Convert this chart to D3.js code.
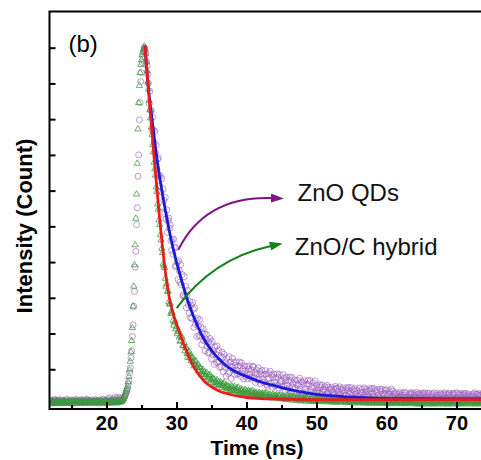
<!DOCTYPE html>
<html>
<head>
<meta charset="utf-8">
<script src="https://cdn.jsdelivr.net/npm/d3@7"></script>
<style>
  body { margin: 0; background: #fff; }
  svg { display: block; }
</style>
</head>
<body>
<div id="chart"></div>
<script>
// decay curves: one channel every 0.1 ns, starting at 12.0 ns
// counts are in thousandths of the peak
var t0 = 12.0, dt = 0.1;

var qdCounts = [
  10,6,14,8,12,5,16,9,7,13,
  8,12,6,15,9,11,5,13,10,7,
  12,7,10,16,6,9,13,8,11,5,
  9,14,7,11,5,12,8,16,10,6,
  13,8,11,6,15,9,7,12,10,14,
  7,11,16,9,6,13,10,8,14,11,
  10,6,12,8,15,7,11,13,9,5,
  14,9,7,12,10,16,8,11,6,13,
  9,13,18,10,7,20,12,8,15,11,
  16,10,21,13,9,18,14,22,11,17,
  13,19,15,12,16,20,24,28,34,40,
  46,58,68,90,104,132,152,192,224,276,
  318,386,430,505,552,640,700,798,846,905,
  930,958,975,990,1000,994,985,962,950,925,
  900,844,878,825,823,770,805,771,734,766,
  706,727,660,688,692,643,613,640,596,634,
  555,604,572,536,581,521,546,483,515,523,
  495,504,460,433,463,422,464,442,388,440,
  390,400,351,404,376,344,393,337,365,305,
  309,359,303,332,272,308,321,280,257,290,
  245,279,242,287,268,217,272,226,238,192,
  243,221,195,239,192,218,169,202,213,180,
  200,152,185,197,164,146,177,147,186,171,
  129,178,140,152,114,162,142,119,165,120,
  154,122,105,136,107,148,134,93,142,105,
  118,81,130,111,88,135,92,120,74,108,
  130,98,119,85,111,121,98,86,109,88,
  120,110,80,118,90,100,73,109,96,80,
  86,107,73,100,110,87,75,98,78,108,
  107,79,90,63,99,86,70,104,73,94,
  60,86,97,74,63,86,65,96,86,57,
  52,88,75,59,94,62,84,50,77,87,
  65,53,77,56,87,77,48,85,58,68,
  66,50,85,53,75,41,68,78,56,44,
  68,48,78,69,39,77,50,60,34,70,
  48,59,32,69,56,40,75,44,65,32,
  64,31,58,68,46,35,58,38,69,59,
  30,68,41,51,25,62,48,33,68,36,
  56,41,33,49,35,57,51,30,56,37,
  43,25,51,42,31,55,34,49,26,45,
  24,43,50,35,27,44,30,52,46,26,
  47,38,27,51,30,45,22,41,48,33,
  24,41,27,49,43,23,49,30,38,20,
  49,28,43,20,39,46,31,23,40,26,
  21,47,28,36,18,44,35,24,48,27,
  37,44,29,21,38,24,46,40,20,46,
  33,22,46,25,40,17,36,43,28,20,
  22,44,38,18,44,25,33,15,41,32,
  43,24,32,14,40,31,20,44,23,38,
  22,32,17,29,34,24,19,30,21,35,
  23,28,16,33,27,20,36,22,32,17,
  23,18,29,20,34,30,17,34,22,27,
  32,26,19,35,21,31,16,28,33,23,
  29,20,34,30,17,34,22,27,15,32,
  16,33,21,26,14,31,25,18,34,20,
  15,27,32,22,17,28,19,33,29,16,
  14,31,25,18,34,20,30,15,27,32,
  32,22,17,28,19,33,29,16,33,21,
  18,34,20,30,15,27,32,22,17,28,
  33,29,16,33,21,26,14,31,25,18,
  21,26,14,31,25,18,34,20,30,15,
  30,15,27,32,22,17,28,19,33,29,
  24
];

var hybridCounts = [
  8,5,11,7,9,4,10,6,12,8,
  6,9,5,11,7,10,8,4,9,12,
  7,5,10,8,6,11,9,5,8,10,
  6,12,7,9,5,10,8,11,6,9,
  10,7,5,9,12,6,8,10,7,5,
  9,11,6,8,10,5,12,7,9,6,
  8,10,5,11,7,9,6,12,8,10,
  5,9,11,7,10,6,8,12,5,9,
  11,7,9,6,10,8,12,5,9,7,
  10,6,8,12,9,5,11,8,10,7,
  9,12,10,14,17,22,27,33,38,44,
  52,64,80,98,122,148,180,216,276,332,
  392,448,522,590,676,772,846,894,930,952,
  966,980,987,996,1004,997,984,960,936,904,
  884,852,826,803,778,757,728,708,679,660,
  643,610,597,562,548,518,505,476,462,438,
  426,395,390,384,354,332,339,317,319,288,
  282,284,256,262,257,237,223,231,234,213,
  219,199,205,209,190,178,193,180,190,166,
  166,174,151,161,160,144,133,144,150,132,
  139,124,130,134,119,109,123,113,122,104,
  105,112,95,104,105,92,85,94,99,86,
  92,80,85,91,78,72,84,76,84,69,
  70,77,63,72,72,62,56,65,70,58,
  65,55,60,65,55,49,60,54,62,49,
  50,56,45,52,53,45,40,48,53,43,
  50,40,46,51,41,36,47,41,49,37,
  38,45,33,41,42,34,29,38,43,33,
  39,31,36,40,32,28,38,33,39,30,
  31,36,27,33,34,28,24,30,35,28,
  32,25,30,33,26,22,32,27,33,24,
  26,30,21,28,29,22,19,25,30,22,
  27,20,25,28,21,17,27,23,28,19,
  21,26,17,23,24,18,15,21,26,18,
  23,16,21,25,17,13,23,19,25,16,
  17,22,13,20,21,15,11,17,22,15,
  20,13,18,22,14,10,20,16,22,13,
  15,20,10,17,18,12,9,15,20,13,
  18,11,16,20,13,9,19,15,21,12,
  17,10,15,18,12,8,17,14,19,11,
  12,17,8,15,16,10,7,13,18,11,
  16,9,14,17,11,7,16,13,18,10,
  11,16,7,14,15,9,6,12,17,10,
  14,7,12,16,9,5,15,11,16,8,
  10,15,6,13,14,8,5,11,16,9,
  13,6,11,15,8,4,14,10,15,7,
  9,14,5,12,13,7,4,10,15,8,
  13,6,11,15,8,4,14,10,15,7,
  8,13,4,11,12,6,3,9,14,7,
  12,5,10,14,7,3,13,9,14,6,
  8,13,4,11,12,6,3,9,14,7,
  12,5,10,14,7,3,13,9,14,6,
  7,12,3,10,11,5,2,8,13,6,
  11,4,9,13,6,2,12,8,13,5,
  7,12,3,10,11,5,2,8,13,6,
  11,4,9,13,6,2,12,8,13,5,
  7,12,3,10,11,5,2,8,13,6,
  11,4,9,13,6,2,12,8,13,5,
  7,12,3,10,11,5,2,8,13,6,
  11,4,9,13,6,2,12,8,13,5,
  7,12,3,10,11,5,2,8,13,6,
  11,4,9,13,6,2,12,8,13,5,
  8
];

// fitted decays
var fitTimes  = [25.5,26,26.5,27,27.5,28,28.5,29,29.5,30,30.5,31,31.5,32,32.5,33,33.5,34,35,36,37,38,39,40,42,44,46,48,50,52,54,56,58,60,65,70,74];
var qdFit     = [1006,885,800,720,650,590,535,485,440,400,365,330,298,270,245,222,200,182,153,130,112,98,88,80,65,54,44,36,30,26,23,21,19,18,17.5,17,17];
var hybridFit = [1006,880,762,648,540,442,360,298,258,227,199,172,147,125,106,90,77,66,51,40,33,28,24,21,18,17,16,15.5,15,15,15,15,15,15,15,15,15];

var xTicks = [20,30,40,50,60,70];
var xMinorTicks = [15,25,35,45,55,65,75];
var yTicks = [100,200,300,400,500,600,700,800,900,1000];

var labels = ['ZnO QDs', 'ZnO/C hybrid'];

var W = 481, H = 460;
var font = '"Liberation Sans", Arial, Helvetica, sans-serif';

var svg = d3.select('#chart').append('svg')
    .attr('width', W)
    .attr('height', H);

var x = d3.scaleLinear().domain([11.86, 73.5]).range([49.5, 481]);
var y = d3.scaleLinear().domain([-11.2, 1101.3]).range([409, 11.5]);

var toPoints = function (arr) {
    return arr.map(function (v, i) { return {t: +(t0 + i * dt).toFixed(1), v: v}; });
};
var qdData = toPoints(qdCounts);
var hybridData = toPoints(hybridCounts);

svg.append('defs').append('clipPath').attr('id', 'clip')
    .append('rect')
    .attr('x', x.range()[0]).attr('y', y.range()[1])
    .attr('width', x.range()[1] - x.range()[0] + 5)
    .attr('height', y.range()[0] - y.range()[1]);

var plot = svg.append('g').attr('clip-path', 'url(#clip)');

// ZnO QDs points
plot.append('g').selectAll('circle')
    .data(qdData)
    .enter().append('circle')
    .attr('cx', function (d) { return x(d.t); })
    .attr('cy', function (d) { return y(d.v); })
    .attr('r', 3)
    .style('fill', 'none')
    .style('stroke', '#a066c0')
    .style('stroke-width', 0.9)
    .style('opacity', 0.75);

// ZnO/C hybrid points
var tri = d3.symbol().type(d3.symbolTriangle).size(17);
plot.append('g').selectAll('path')
    .data(hybridData)
    .enter().append('path')
    .attr('d', tri)
    .attr('transform', function (d) { return 'translate(' + x(d.t) + ',' + y(d.v) + ')'; })
    .style('fill', 'none')
    .style('stroke', '#3c983c')
    .style('stroke-width', 0.9)
    .style('opacity', 0.85);

var line = d3.line()
    .x(function (d) { return x(d[0]); })
    .y(function (d) { return y(d[1]); })
    .curve(d3.curveMonotoneX);

plot.append('path')
    .attr('d', line(d3.zip(fitTimes, qdFit)))
    .style('fill', 'none')
    .style('stroke', '#1a1ad8')
    .style('stroke-width', 2.8);

plot.append('path')
    .attr('d', line(d3.zip(fitTimes, hybridFit)))
    .style('fill', 'none')
    .style('stroke', '#ec1c1c')
    .style('stroke-width', 2.8);

// axes
var xAxis = svg.append('g')
    .attr('transform', 'translate(0,' + y.range()[0] + ')')
    .call(d3.axisBottom(x).tickValues(xTicks).tickSize(-7).tickPadding(7))
    .call(function (g) { g.select('.domain').remove(); });
xAxis.selectAll('line').style('stroke', '#000').style('stroke-width', 2);
xAxis.selectAll('text')
    .style('font-family', font)
    .style('font-size', '20px')
    .style('font-weight', 'bold')
    .style('fill', '#000');

svg.append('g')
    .attr('transform', 'translate(0,' + y.range()[0] + ')')
    .call(d3.axisBottom(x).tickValues(xMinorTicks).tickSize(-4).tickFormat(''))
    .call(function (g) { g.select('.domain').remove(); })
    .selectAll('line').style('stroke', '#000').style('stroke-width', 2);

svg.append('g')
    .attr('transform', 'translate(' + x.range()[0] + ',0)')
    .call(d3.axisLeft(y).tickValues(yTicks).tickSize(-6).tickFormat(''))
    .call(function (g) { g.select('.domain').remove(); })
    .selectAll('line').style('stroke', '#000').style('stroke-width', 2);

// frame: top, left and bottom (right side runs off the picture)
svg.append('path')
    .attr('d', 'M' + (W + 5) + ',' + y.range()[1] + 'H' + x.range()[0] + 'V' + y.range()[0] + 'H' + (W + 5))
    .style('fill', 'none')
    .style('stroke', '#000')
    .style('stroke-width', 2);

// axis titles
svg.append('text')
    .attr('x', 257).attr('y', 455)
    .attr('text-anchor', 'middle')
    .text('Time (ns)')
    .style('font-family', font).style('font-size', '21px').style('font-weight', 'bold');

svg.append('text')
    .attr('transform', 'translate(32,226) rotate(-90)')
    .attr('text-anchor', 'middle')
    .text('Intensity (Count)')
    .style('font-family', font).style('font-size', '22px').style('font-weight', 'bold');

svg.append('text')
    .attr('x', x.range()[0] + 19).attr('y', 52)
    .text('(b)')
    .style('font-family', font).style('font-size', '24px');

// curved arrows pointing at the labels (anchors in data units)
var arrows = [
    {color: '#7d1585', from: [30.26, 434], ctrl: [34.07, 585], to: [43.64, 579], text: [47.3, 571], label: labels[0]},
    {color: '#16821c', from: [30.03, 271], ctrl: [35.07, 409], to: [43.5, 445], text: [46.9, 420], label: labels[1]}
];

var defs = svg.select('defs');
arrows.forEach(function (a, i) {
    defs.append('marker')
        .attr('id', 'head' + i)
        .attr('markerUnits', 'userSpaceOnUse')
        .attr('viewBox', '0 0 13 9')
        .attr('markerWidth', 13).attr('markerHeight', 9)
        .attr('refX', 1).attr('refY', 4.5)
        .attr('orient', 'auto')
        .append('path')
        .attr('d', 'M0,0L13,4.5L0,9Z')
        .style('fill', a.color);

    var p = d3.path();
    p.moveTo(x(a.from[0]), y(a.from[1]));
    p.quadraticCurveTo(x(a.ctrl[0]), y(a.ctrl[1]), x(a.to[0]), y(a.to[1]));
    svg.append('path')
        .attr('d', p.toString())
        .attr('marker-end', 'url(#head' + i + ')')
        .style('fill', 'none')
        .style('stroke', a.color)
        .style('stroke-width', 2);

    svg.append('text')
        .attr('x', x(a.text[0])).attr('y', y(a.text[1]))
        .text(a.label)
        .style('font-family', font).style('font-size', '24px').style('fill', '#111');
});
</script>
</body>
</html>
